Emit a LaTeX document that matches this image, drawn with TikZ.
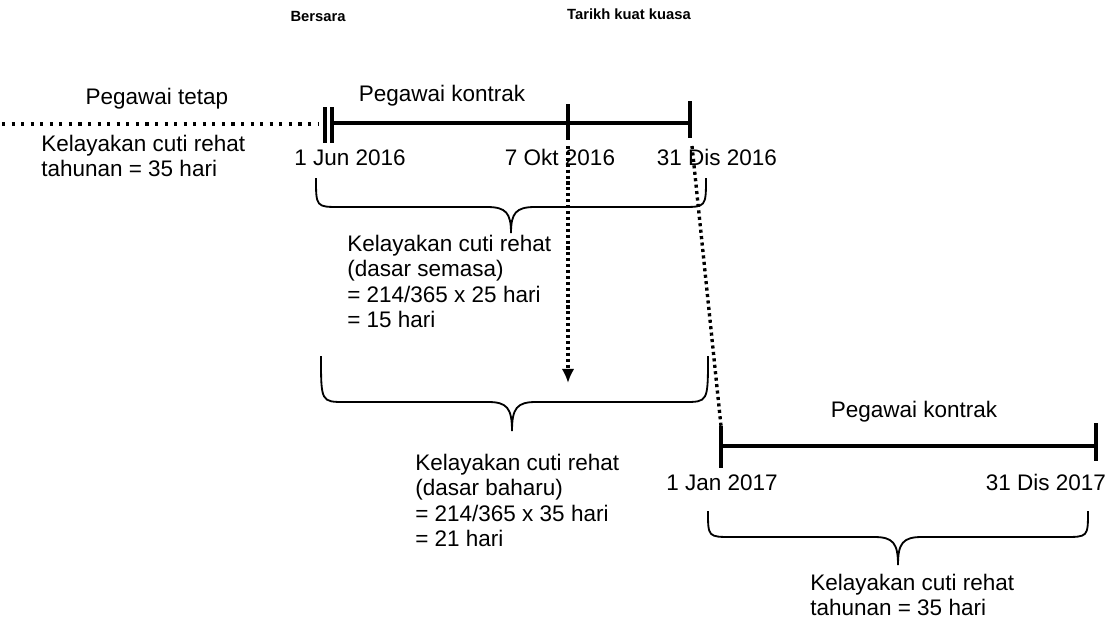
\documentclass[tikz,border=0pt]{standalone}
\usepackage{fontspec}
\setmainfont{Liberation Sans}
\usetikzlibrary{arrows.meta,positioning}

% brace: left x, tip x, right x, end y, bar y, tip y
\newcommand{\kurung}[6]{%
  \draw[brace] (#1,#4) .. controls (#1,#5) .. (#1+24,#5) -- (#2-24,#5)
    .. controls (#2-5,#5) and (#2,#5+6) .. (#2,#6)
    .. controls (#2,#5+6) and (#2+5,#5) .. (#2+24,#5) -- (#3-24,#5)
    .. controls (#3,#5) .. (#3,#4);}

\begin{document}
\begin{tikzpicture}[x=0.025cm, y=-0.025cm,
    lbl/.style={font=\fontsize{16}{18}\selectfont, inner sep=0pt, anchor=base},
    hdr/.style={font=\fontsize{10.5}{12}\selectfont\bfseries, inner sep=0pt, anchor=base},
    note/.style={font=\fontsize{16}{18}\selectfont, inner sep=0pt, align=left, anchor=north west},
    axis/.style={line width=2.8pt},
    tickline/.style={line width=2.6pt},
    brace/.style={line width=1.3pt},
    dotline/.style={line width=2.2pt, dash pattern=on 2.2pt off 4.6pt},
    dotarrow/.style={line width=2.4pt, dash pattern=on 2.2pt off 2pt, -{Latex[length=10pt,width=9pt]}}
]
\useasboundingbox (0,0) rectangle (1112,626);

% Headers
\node[hdr] (bersara) at (318,21) {Bersara};
\node[hdr] (tarikh) at (629,19) {Tarikh kuat kuasa};

% First timeline (2016)
\node[lbl] (tetap) at (157,104) {Pegawai tetap};
\node[lbl] (kontrak1) at (442,101) {Pegawai kontrak};
\coordinate (dotstart) at (2,124);
\coordinate (dotend) at (319,124);
\coordinate (tjun) at (334,123);
\coordinate (tokt) at (568,123);
\coordinate (tdis) at (690,123);
\draw[dotline] (dotstart) -- (dotend);
\draw[tickline] (325,107) -- (325,143);
\draw[tickline] (332,107) -- (332,143);
\draw[axis] (tjun) -- (tdis);
\draw[tickline] (568,104) -- (568,140);
\draw[tickline] (690,101) -- (690,138);

\node[lbl] (jun) at (350,165) {1 Jun 2016};
\node[lbl] (okt) at (560,165) {7 Okt 2016};
\node[lbl] (dis16) at (717,165) {31 Dis 2016};

\node[note] (tetapnote) at (41,135) {Kelayakan cuti rehat\\tahunan = 35 hari};

% Brace and note: current basis
\kurung{316}{511}{706}{178}{207}{233}
\node[note] (semasa) at (347,235) {Kelayakan cuti rehat\\(dasar semasa)\\= 214/365 x 25 hari\\= 15 hari};

% Brace and note: new basis
\kurung{321}{512}{708}{356}{402}{431}
\node[note] (baharu) at (415,454) {Kelayakan cuti rehat\\(dasar baharu)\\= 214/365 x 35 hari\\= 21 hari};

% Second timeline (2017)
\node[lbl] (kontrak2) at (914,417) {Pegawai kontrak};
\coordinate (tjan) at (721,446);
\coordinate (tdis17) at (1096,446);
\coordinate (jantop) at (721,426);
\draw[axis] (tjan) -- (tdis17);
\draw[tickline] (721,426) -- (721,468);
\draw[tickline] (1096,423) -- (1096,461);
\node[lbl] (jan) at (722,490) {1 Jan 2017};
\node[lbl] (dis17) at (1046,490) {31 Dis 2017};

\kurung{708}{898}{1088}{511}{537}{565}
\node[note] (tahunan) at (810,574) {Kelayakan cuti rehat\\tahunan = 35 hari};

% Dotted links
\coordinate (oktstart) at (568,146);
\coordinate (oktend) at (568,383);
\coordinate (disbot) at (692,146);
\draw[dotarrow] (oktstart) -- (oktend);
\draw[dotline, line width=2.4pt, dash pattern=on 2.2pt off 2.4pt] (disbot) -- (jantop);

\end{tikzpicture}
\end{document}
